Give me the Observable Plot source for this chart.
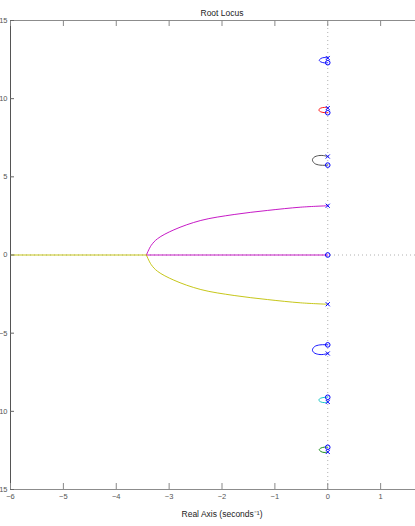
<!DOCTYPE html>
<html>
<head>
<meta charset="utf-8">
<script src="https://cdn.jsdelivr.net/npm/d3@7"></script>
<script src="https://cdn.jsdelivr.net/npm/@observablehq/plot@0.6"></script>
<style>
  html, body { margin: 0; padding: 0; background: #fff; overflow: hidden; }
  #chart { width: 415px; height: 526px; overflow: hidden; }
  #chart svg { max-width: none !important; height: 526px !important; display: block; }
</style>
</head>
<body>
<div id="chart"></div>
<script>
// ---- data ----
const title = "Root Locus";
const xLabel = "Real Axis (seconds\u207B\u00B9)";
const xTicks = [-6, -5, -4, -3, -2, -1, 0, 1];
const yTicks = [-15, -10, -5, 0, 5, 10, 15];
const xDomain = [-6, 2];
const yDomain = [-15, 15];

// poles (x) and zeros (o)
const poleRe = [0, 0, 0, 0, 0, 0, 0, 0];
const poleIm = [12.6, 9.4, 6.3, 3.15, -3.15, -6.3, -9.4, -12.6];
const zeroRe = [0, 0, 0, 0, 0, 0, 0];
const zeroIm = [12.3, 9.1, 5.75, 0, -5.75, -9.1, -12.3];

// locus branches (re, im)
const branchNames = ["b1", "g", "r", "c", "m", "mAxis", "y", "yAxis", "k", "b2"];
const branchColors = ["#0000ff", "#008000", "#ff0000", "#00bfbf", "#bf00bf", "#bf00bf", "#bfbf00", "#bfbf00", "#404040", "#0000ff"];
const b1Re = [0, -0.07, -0.13, -0.16, -0.13, -0.06, 0];
const b1Im = [12.6, 12.63, 12.57, 12.45, 12.35, 12.29, 12.3];
const gRe = [0, -0.07, -0.13, -0.16, -0.13, -0.06, 0];
const gIm = [-12.6, -12.63, -12.57, -12.45, -12.35, -12.29, -12.3];
const rRe = [0, -0.06, -0.13, -0.17, -0.14, -0.07, 0];
const rIm = [9.4, 9.44, 9.4, 9.28, 9.17, 9.11, 9.1];
const cRe = [0, -0.06, -0.13, -0.17, -0.14, -0.07, 0];
const cIm = [-9.4, -9.44, -9.4, -9.28, -9.17, -9.11, -9.1];
const mRe = [0, -0.51, -1.14, -1.77, -2.40, -2.91, -3.22, -3.34, -3.43];
const mIm = [3.15, 3.06, 2.85, 2.59, 2.21, 1.61, 1.04, 0.61, 0];
const mAxisRe = [-3.43, 0];
const mAxisIm = [0, 0];
const yRe = [0, -0.51, -1.14, -1.77, -2.40, -2.91, -3.22, -3.34, -3.43];
const yIm = [-3.15, -3.06, -2.85, -2.59, -2.21, -1.61, -1.04, -0.61, 0];
const yAxisRe = [-3.43, -6.5];
const yAxisIm = [0, 0];
const kRe = [0, -0.08, -0.17, -0.26, -0.29, -0.25, -0.15, -0.05, 0];
const kIm = [6.3, 6.36, 6.36, 6.25, 6.08, 5.86, 5.75, 5.74, 5.75];
const b2Re = [0, -0.08, -0.17, -0.26, -0.29, -0.25, -0.15, -0.05, 0];
const b2Im = [-6.3, -6.36, -6.36, -6.25, -6.08, -5.86, -5.75, -5.74, -5.75];

// ---- build tables ----
const branchData = { b1: [b1Re, b1Im], g: [gRe, gIm], r: [rRe, rIm], c: [cRe, cIm],
  m: [mRe, mIm], mAxis: [mAxisRe, mAxisIm], y: [yRe, yIm], yAxis: [yAxisRe, yAxisIm],
  k: [kRe, kIm], b2: [b2Re, b2Im] };
const locus = [];
branchNames.forEach((name, i) => {
  const [re, im] = branchData[name];
  re.forEach((v, j) => locus.push({ branch: name, color: branchColors[i], re: v, im: im[j] }));
});
const poles = poleRe.map((v, i) => ({ re: v, im: poleIm[i] }));
const zeros = zeroRe.map((v, i) => ({ re: v, im: zeroIm[i] }));

const W = 433, H = 526, mL = 10, mR = 0, mT = 20, mB = 37;
const innerW = W - mL - mR, innerH = H - mT - mB;
const font = "'Liberation Sans Narrow', 'Liberation Sans', Arial, sans-serif";

const chart = Plot.plot({
  width: W, height: H,
  marginLeft: mL, marginRight: mR, marginTop: mT, marginBottom: mB,
  style: { fontFamily: font, fontSize: "8px", color: "#444", background: "#fff", overflow: "visible" },
  x: { domain: xDomain, label: null },
  y: { domain: yDomain, label: null },
  marks: [
    // dotted guides
    Plot.ruleX([0], { stroke: "#b0b0b0", strokeDasharray: "1,3", strokeWidth: 1 }),
    Plot.ruleY([0], { stroke: "#b0b0b0", strokeDasharray: "1,3", strokeWidth: 1 }),
    // locus branches
    Plot.line(locus, { x: "re", y: "im", z: "branch", stroke: "color", strokeWidth: 0.9, curve: "catmull-rom", clip: true }),
    // poles and zeros
    Plot.dot(poles, { x: "re", y: "im", symbol: "times", r: 2, stroke: "#0000ff", strokeWidth: 1 }),
    Plot.dot(zeros, { x: "re", y: "im", symbol: "circle", r: 2.3, stroke: "#0000ff", strokeWidth: 1, fill: "none" }),
    // box lines
    Plot.ruleY([yDomain[1]], { stroke: "#8c8c8c", strokeWidth: 1.2 }),
    Plot.ruleY([yDomain[0]], { stroke: "#8c8c8c", strokeWidth: 1.2 }),
    Plot.ruleX([xDomain[0]], { stroke: "#555", strokeWidth: 1 }),
    // inward ticks
    Plot.ruleX(xTicks, { stroke: "#888", insetBottom: innerH - 6 }),
    Plot.ruleX(xTicks, { stroke: "#888", insetTop: innerH - 6 }),
    Plot.ruleY(yTicks, { stroke: "#666", insetRight: innerW - 4 }),
    // tick labels
    Plot.axisX(xTicks, { tickSize: 0, tickPadding: 4, fontSize: 7.5, fill: "#555", label: null }),
    Plot.axisY(yTicks, { tickSize: 0, tickPadding: 3, fontSize: 7.5, fill: "#555", label: null }),
    // title & axis label
    Plot.text([title], { frameAnchor: "top", dy: -11, fontSize: 8.5, fill: "#222" }),
    Plot.text([xLabel], { frameAnchor: "bottom", dy: 27, fontSize: 8.5, fill: "#222" })
  ]
});
document.getElementById("chart").appendChild(chart);
</script>
</body>
</html>
